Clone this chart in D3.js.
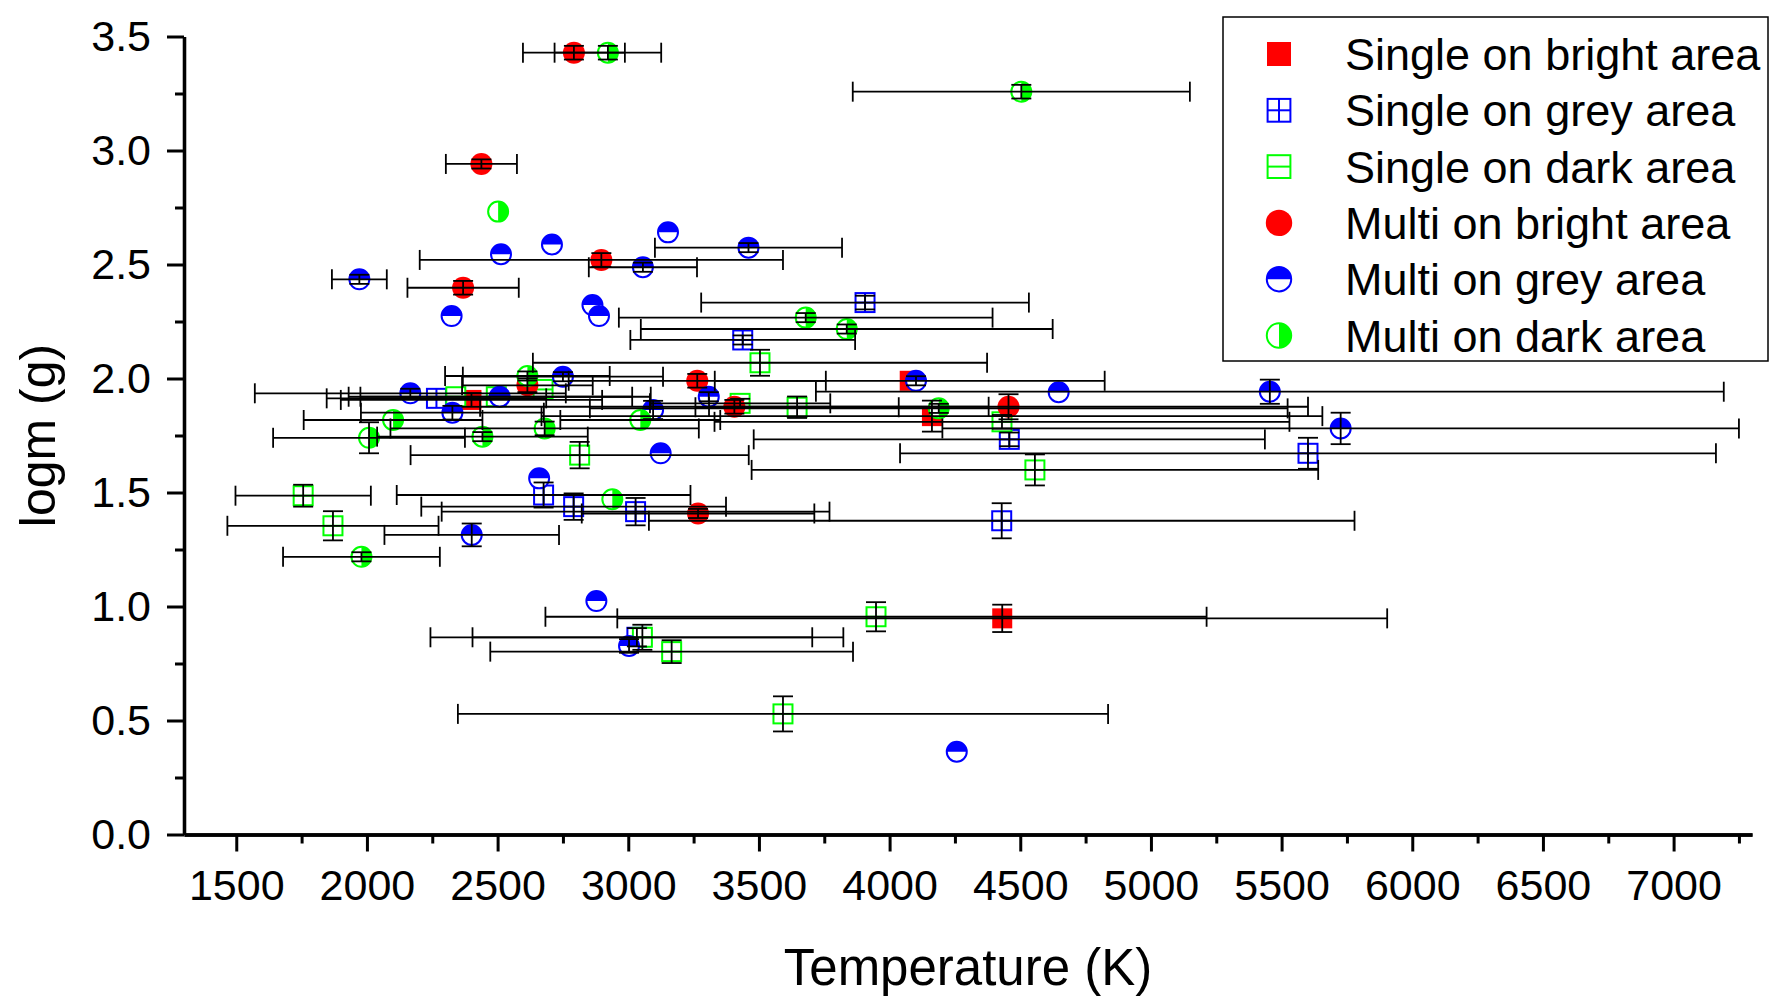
<!DOCTYPE html>
<html><head><meta charset="utf-8">
<script src="https://cdn.jsdelivr.net/npm/d3@7"></script>
<style>html,body{margin:0;padding:0;background:#fff;}svg{display:block;font-family:"Liberation Sans",Arial,sans-serif;}</style>
</head><body><svg id="c" width="1771" height="1002"></svg>
<script>
// Each row: [Temperature (K), logm (g), x error (K), y error]
const singleBright = [[4077,1.99,746,0],[2400,1.906,500,0.03],[4162,1.835,1494,0.068],[4431,0.948,1473,0.06]];
const singleGrey = [[3906,2.333,627,0.03],[3438,2.169,430,0.02],[2266,1.913,420,0],[4458,1.733,978,0.03],[5601,1.672,1561,0.068],[2676,1.489,562,0.055],[2791,1.438,583,0.058],[3028,1.416,742,0.06],[4429,1.376,1350,0.077],[3033,0.865,790,0.04]];
const singleDark = [[3504,2.069,869,0.057],[2495,1.92,520,0],[2674,1.952,0,0],[2340,1.92,0,0],[3428,1.891,345,0.02],[3646,1.874,389,0.047],[4430,1.81,1100,0.03],[4556,1.599,1084,0.068],[2814,1.664,647,0.058],[1756,1.486,259,0.048],[1870,1.354,404,0.064],[3948,0.955,1265,0.064],[3054,0.865,650,0.055],[3166,0.802,694,0.05],[3592,0.529,1244,0.077]];
const multiBright = [[2792,3.429,195,0.03],[2438,2.941,136,0.02],[2897,2.52,695,0.03],[2368,2.398,213,0.03],[2614,1.97,250,0.03],[3264,1.99,492,0.03],[3406,1.876,973,0.03],[4455,1.876,1146,0.055],[3267,1.408,445,0.02]];
const multiGrey = [[3152,2.641,0,0],[2708,2.588,0,0],[2513,2.545,0,0],[3460,2.574,358,0.02],[3056,2.488,207,0.02],[1971,2.435,105,0.02],[2324,2.274,0,0],[2863,2.322,0,0],[2888,2.274,0,0],[2750,2.008,383,0.02],[4101,1.99,0,0.02],[4647,1.94,0,0],[5455,1.942,1737,0.053],[2166,1.935,595,0.02],[2508,1.92,578,0],[2327,1.85,350,0.03],[3308,1.92,0,0.02],[3095,1.862,0,0.04],[5726,1.781,1524,0.069],[3124,1.672,0,0],[2659,1.562,0,0],[2401,1.314,334,0.05],[2878,1.024,0,0],[3003,0.827,0,0.03],[4257,0.363,0,0]];
const multiDark = [[2922,3.429,204,0.03],[4504,3.258,645,0.03],[2502,2.732,0,0],[3679,2.267,715,0.02],[3836,2.217,788,0.02],[2614,2.011,315,0.02],[4188,1.869,1335,0.02],[2100,1.818,342,0],[2008,1.74,367,0.068],[2442,1.745,403,0.02],[2680,1.781,590,0.03],[3046,1.818,306,0],[2939,1.47,0,0],[1979,1.218,300,0.02]];

const seriesNames = ["Single on bright area","Single on grey area","Single on dark area","Multi on bright area","Multi on grey area","Multi on dark area"];
const seriesTypes = ["sb","sg","sd","mb","mg","md"];
const seriesData = [singleBright, singleGrey, singleDark, multiBright, multiGrey, multiDark];

const xMajorTicks = [1500,2000,2500,3000,3500,4000,4500,5000,5500,6000,6500,7000];
const xMinorTicks = [1750,2250,2750,3250,3750,4250,4750,5250,5750,6250,6750,7250];
const yMajorTicks = [0,0.5,1.0,1.5,2.0,2.5,3.0,3.5];
const yMinorTicks = [0.25,0.75,1.25,1.75,2.25,2.75,3.25];
const xDomain = [1300,7300], yDomain = [0,3.5];
const xTitle = "Temperature (K)", yTitle = "logm (g)";

const RED="#ff0000", BLUE="#0000ff", GREEN="#00ff00";
const svg = d3.select("#c");
const L=184, R=1752, T=36.5, B=834.5;
const x = d3.scaleLinear().domain(xDomain).range([L,R]);
const y = d3.scaleLinear().domain(yDomain).range([B,T]);

function drawMarker(g, type, s){
  // s = scale factor
  const r = 11*s, h = 9.5*s;
  if(type==="sb"){
    g.append("rect").attr("x",-10*s).attr("y",-10*s).attr("width",20*s).attr("height",20*s).attr("fill",RED);
  } else if(type==="sg"){
    g.append("rect").attr("x",-h).attr("y",-h).attr("width",2*h).attr("height",2*h).attr("fill","#fff").attr("stroke",BLUE).attr("stroke-width",2);
    g.append("line").attr("x1",-h).attr("x2",h).attr("y1",0).attr("y2",0).attr("stroke",BLUE).attr("stroke-width",2);
    g.append("line").attr("y1",-h).attr("y2",h).attr("x1",0).attr("x2",0).attr("stroke",BLUE).attr("stroke-width",2);
  } else if(type==="sd"){
    g.append("rect").attr("x",-h).attr("y",-h).attr("width",2*h).attr("height",2*h).attr("fill","#fff").attr("stroke",GREEN).attr("stroke-width",2);
    g.append("line").attr("x1",-h).attr("x2",h).attr("y1",0).attr("y2",0).attr("stroke",GREEN).attr("stroke-width",2);
  } else if(type==="mb"){
    g.append("circle").attr("r",r).attr("fill",RED);
  } else if(type==="mg"){
    const rr=r-1;
    g.append("circle").attr("r",rr).attr("fill","#fff");
    g.append("path").attr("d",`M${-rr},0A${rr},${rr} 0 0 1 ${rr},0Z`).attr("fill",BLUE);
    g.append("circle").attr("r",rr).attr("fill","none").attr("stroke",BLUE).attr("stroke-width",2);
  } else if(type==="md"){
    const rr=r-1;
    g.append("circle").attr("r",rr).attr("fill","#fff");
    g.append("path").attr("d",`M0,${-rr}A${rr},${rr} 0 0 1 0,${rr}Z`).attr("fill",GREEN);
    g.append("circle").attr("r",rr).attr("fill","none").attr("stroke",GREEN).attr("stroke-width",2);
  }
}

// markers
const markG = svg.append("g");
seriesData.forEach((data,i)=>{
  const type = seriesTypes[i];
  markG.append("g").selectAll("g").data(data).join("g")
    .attr("transform",d=>`translate(${x(d[0])},${y(d[1])})`)
    .each(function(){ drawMarker(d3.select(this), type, 1); });
});

// error bars
const errG = svg.append("g").attr("stroke","#000").attr("stroke-width",1.8).attr("fill","none");
const cap = 10;
seriesData.forEach(data=>{
  data.forEach(d=>{
    const cx=x(d[0]), cy=y(d[1]);
    if(d[2]>0){
      const x1=x(d[0]-d[2]), x2=x(d[0]+d[2]);
      errG.append("line").attr("x1",x1).attr("x2",x2).attr("y1",cy).attr("y2",cy);
      errG.append("line").attr("x1",x1).attr("x2",x1).attr("y1",cy-cap).attr("y2",cy+cap);
      errG.append("line").attr("x1",x2).attr("x2",x2).attr("y1",cy-cap).attr("y2",cy+cap);
    }
    if(d[3]>0){
      const y1=y(d[1]-d[3]), y2=y(d[1]+d[3]);
      errG.append("line").attr("x1",cx).attr("x2",cx).attr("y1",y1).attr("y2",y2);
      errG.append("line").attr("x1",cx-cap).attr("x2",cx+cap).attr("y1",y1).attr("y2",y1);
      errG.append("line").attr("x1",cx-cap).attr("x2",cx+cap).attr("y1",y2).attr("y2",y2);
    }
  });
});

// axes
function styleAxis(g){
  g.select(".domain").attr("stroke","#000").attr("stroke-width",3.3);
  g.selectAll(".tick line").attr("stroke","#000").attr("stroke-width",3);
  g.selectAll(".tick text").attr("fill","#000").attr("font-size",43).attr("font-family",'"Liberation Sans",Arial,sans-serif');
}
const xAxisMinor = svg.append("g").attr("transform",`translate(0,${B})`)
  .call(d3.axisBottom(x).tickValues(xMinorTicks).tickSize(9).tickSizeOuter(0).tickFormat(""));
styleAxis(xAxisMinor);
const xAxis = svg.append("g").attr("transform",`translate(0,${B})`)
  .call(d3.axisBottom(x).tickValues(xMajorTicks).tickSize(17).tickSizeOuter(0).tickPadding(18).tickFormat(d3.format("d")));
styleAxis(xAxis);
const yAxisMinor = svg.append("g").attr("transform",`translate(${L},0)`)
  .call(d3.axisLeft(y).tickValues(yMinorTicks).tickSize(9).tickSizeOuter(0).tickFormat(""));
styleAxis(yAxisMinor);
const yAxis = svg.append("g").attr("transform",`translate(${L},0)`)
  .call(d3.axisLeft(y).tickValues(yMajorTicks).tickSize(17).tickSizeOuter(0).tickPadding(16).tickFormat(d3.format(".1f")));
styleAxis(yAxis);

// titles
svg.append("text").attr("x",(L+R)/2).attr("y",985).attr("text-anchor","middle")
  .attr("font-size",51).attr("fill","#000").text(xTitle);
svg.append("text").attr("transform",`translate(55,${(T+B)/2}) rotate(-90)`).attr("text-anchor","middle")
  .attr("font-size",50).attr("fill","#000").text(yTitle);

// legend
const lg = svg.append("g");
lg.append("rect").attr("x",1223).attr("y",17).attr("width",545).attr("height",344)
  .attr("fill","#fff").attr("stroke","#000").attr("stroke-width",1.5);
seriesNames.forEach((name,i)=>{
  const cy = 54 + i*56.3;
  const g = lg.append("g").attr("transform",`translate(1279,${cy})`);
  drawMarker(g, seriesTypes[i], 1.2);
  lg.append("text").attr("x",1345).attr("y",cy+16).attr("font-size",45).attr("fill","#000").text(name);
});
</script></body></html>
